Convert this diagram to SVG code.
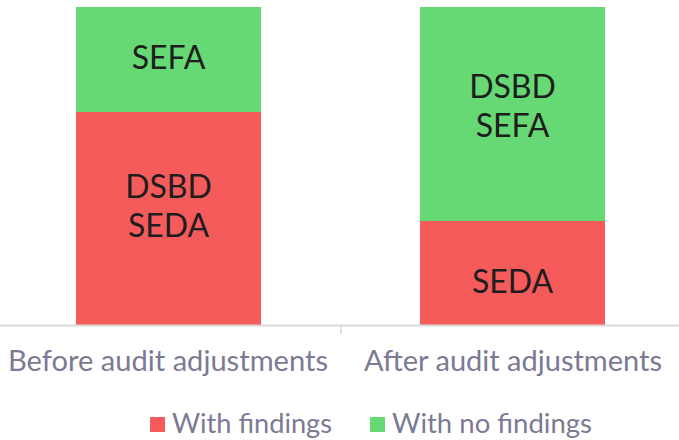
<svg xmlns="http://www.w3.org/2000/svg" width="679" height="440" viewBox="0 0 679 440">
  <style>
    .red { fill: #F55B5B; }
    .green { fill: #66D874; }
    .lbl { font-family: Lato, "Liberation Sans", sans-serif; font-size: 32px; fill: #1E1E1E; text-anchor: middle; }
    .axis { font-family: Lato, "Liberation Sans", sans-serif; font-size: 28px; fill: #7A7A94; }
    .legend { font-family: Lato, "Liberation Sans", sans-serif; font-size: 26px; fill: #7A7A94; }
  </style>
  <rect width="679" height="440" fill="#FFFFFF"/>

  <g id="bar-before">
    <rect class="green" x="76" y="7" width="185" height="105"/>
    <rect class="red" x="76" y="112" width="185" height="213"/>
    <text class="lbl" x="168.5" y="69">SEFA</text>
    <text class="lbl" x="168.5" y="198">DSBD</text>
    <text class="lbl" x="168.5" y="237">SEDA</text>
  </g>

  <g id="bar-after">
    <rect class="green" x="420" y="7" width="185" height="214"/>
    <rect class="red" x="420" y="221" width="185" height="104"/>
    <text class="lbl" x="512.5" y="98">DSBD</text>
    <text class="lbl" x="512.5" y="137">SEFA</text>
    <text class="lbl" x="512.5" y="293">SEDA</text>
  </g>

  <g id="axis">
    <line x1="0" y1="325.5" x2="679" y2="325.5" stroke="#D9D9D9" stroke-width="2"/>
    <line x1="341" y1="325" x2="341" y2="334" stroke="#D9D9D9" stroke-width="1.5"/>
    <text class="axis" x="8" y="371" textLength="320" lengthAdjust="spacingAndGlyphs">Before audit adjustments</text>
    <text class="axis" x="364" y="371" textLength="298" lengthAdjust="spacingAndGlyphs">After audit adjustments</text>
  </g>

  <g id="legend">
    <rect class="red" x="150" y="417" width="15" height="15"/>
    <text class="legend" x="172" y="433" textLength="160" lengthAdjust="spacingAndGlyphs">With findings</text>
    <rect class="green" x="370" y="417" width="15" height="15"/>
    <text class="legend" x="392" y="433" textLength="200" lengthAdjust="spacingAndGlyphs">With no findings</text>
  </g>
</svg>
